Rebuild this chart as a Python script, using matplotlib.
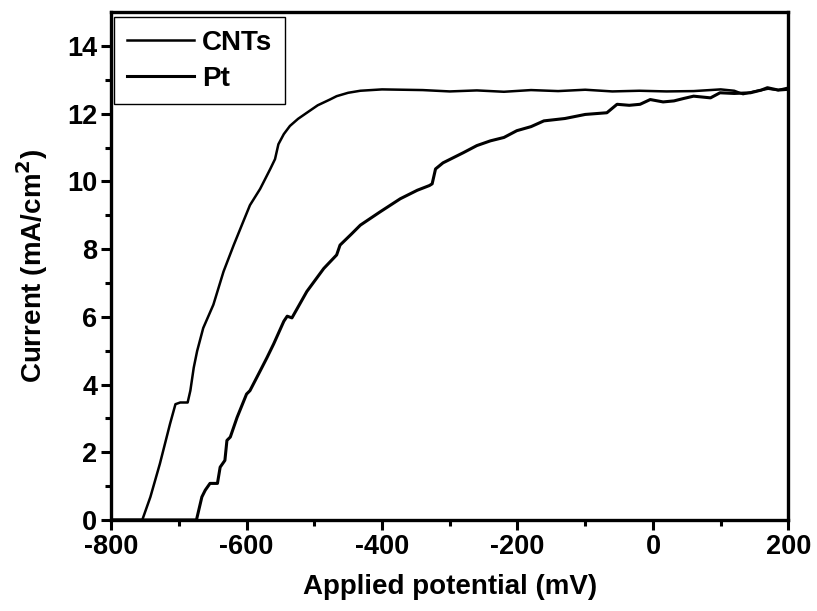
import matplotlib.pyplot as plt

plt.rcParams['font.family'] = ['Liberation Sans', 'DejaVu Sans']
plt.rcParams['font.weight'] = 'bold'
plt.rcParams['axes.unicode_minus'] = False

# CNTs curve (mV, mA/cm2)
cnt_v = [-800, -754, -742, -728, -713, -705, -698, -687, -683, -678, -673,
         -664, -649, -634, -619, -605, -595, -580, -565, -558, -553, -545,
         -536, -524, -511, -495, -477, -467, -450, -432, -400, -370, -340,
         -300, -260, -220, -180, -140, -100, -60, -20, 20, 60, 100, 120,
         133, 150, 170, 185, 200]
cnt_i = [0.0, 0.0, 0.68, 1.66, 2.84, 3.42, 3.47, 3.47, 3.82, 4.5, 4.99,
         5.67, 6.36, 7.34, 8.12, 8.81, 9.3, 9.78, 10.37, 10.66, 11.1, 11.4,
         11.64, 11.85, 12.03, 12.25, 12.42, 12.52, 12.62, 12.68, 12.72, 12.71, 12.70,
         12.66, 12.69, 12.65, 12.7, 12.67, 12.71, 12.66, 12.68, 12.66, 12.67, 12.72, 12.68,
         12.58, 12.66, 12.74, 12.7, 12.77]

# Pt curve (mV, mA/cm2)
pt_v = [-800, -674, -666, -661, -654, -643, -639, -632, -629, -624, -614,
        -600, -595, -580, -570, -560, -545, -540, -533, -511, -486, -467,
        -462, -445, -432, -403, -373, -348, -330, -326, -321, -310, -299,
        -280, -260, -240, -220, -201, -180, -161, -130, -100, -68, -53,
        -35, -19, -4, 15, 31, 45, 60, 85, 99, 120, 144, 160, 169, 185, 198]
pt_i = [0.0, 0.0, 0.68, 0.88, 1.08, 1.08, 1.56, 1.76, 2.35, 2.45, 3.03,
        3.72, 3.82, 4.4, 4.79, 5.2, 5.87, 6.02, 5.97, 6.75, 7.43, 7.83,
        8.12, 8.45, 8.71, 9.1, 9.49, 9.74, 9.88, 9.93, 10.37, 10.55, 10.66,
        10.85, 11.06, 11.2, 11.3, 11.5, 11.62, 11.79, 11.86, 11.98, 12.03, 12.28,
        12.25, 12.28, 12.42, 12.35, 12.38, 12.45, 12.52, 12.47, 12.62, 12.6, 12.62, 12.7, 12.77, 12.7, 12.72]

fig = plt.figure(figsize=(8.17, 6.11), dpi=100)
ax = fig.add_axes([0.136, 0.149, 0.829, 0.831])

ax.plot(cnt_v, cnt_i, color='black', lw=1.8, label='CNTs')
ax.plot(pt_v, pt_i, color='black', lw=2.2, label='Pt')

ax.set_xlim(-800, 200)
ax.set_ylim(0, 15)
ax.set_xticks([-800, -600, -400, -200, 0, 200])
ax.set_xticks([-700, -500, -300, -100, 100], minor=True)
ax.set_yticks([0, 2, 4, 6, 8, 10, 12, 14])
ax.set_yticks([1, 3, 5, 7, 9, 11, 13], minor=True)
ax.tick_params(which='major', direction='out', length=7, width=2.2,
               labelsize=19.5, pad=3)
ax.tick_params(which='minor', direction='out', length=4.5, width=2.2)
for s in ax.spines.values():
    s.set_linewidth(2.4)

ax.set_xlabel('Applied potential (mV)', fontsize=20, fontweight='bold', labelpad=10)
ax.set_ylabel('Current (mA/cm$^\\mathbf{2}$)', fontsize=20, fontweight='bold', labelpad=12)

leg = ax.legend(loc='upper left', bbox_to_anchor=(0.005, 0.99), borderaxespad=0,
                fontsize=20, handlelength=2.4, handletextpad=0.3,
                labelspacing=0.35, fancybox=False, framealpha=1,
                borderpad=0.45)
leg.get_frame().set_edgecolor('black')
leg.get_frame().set_linewidth(1.0)

fig.savefig('out.png', dpi=100)
